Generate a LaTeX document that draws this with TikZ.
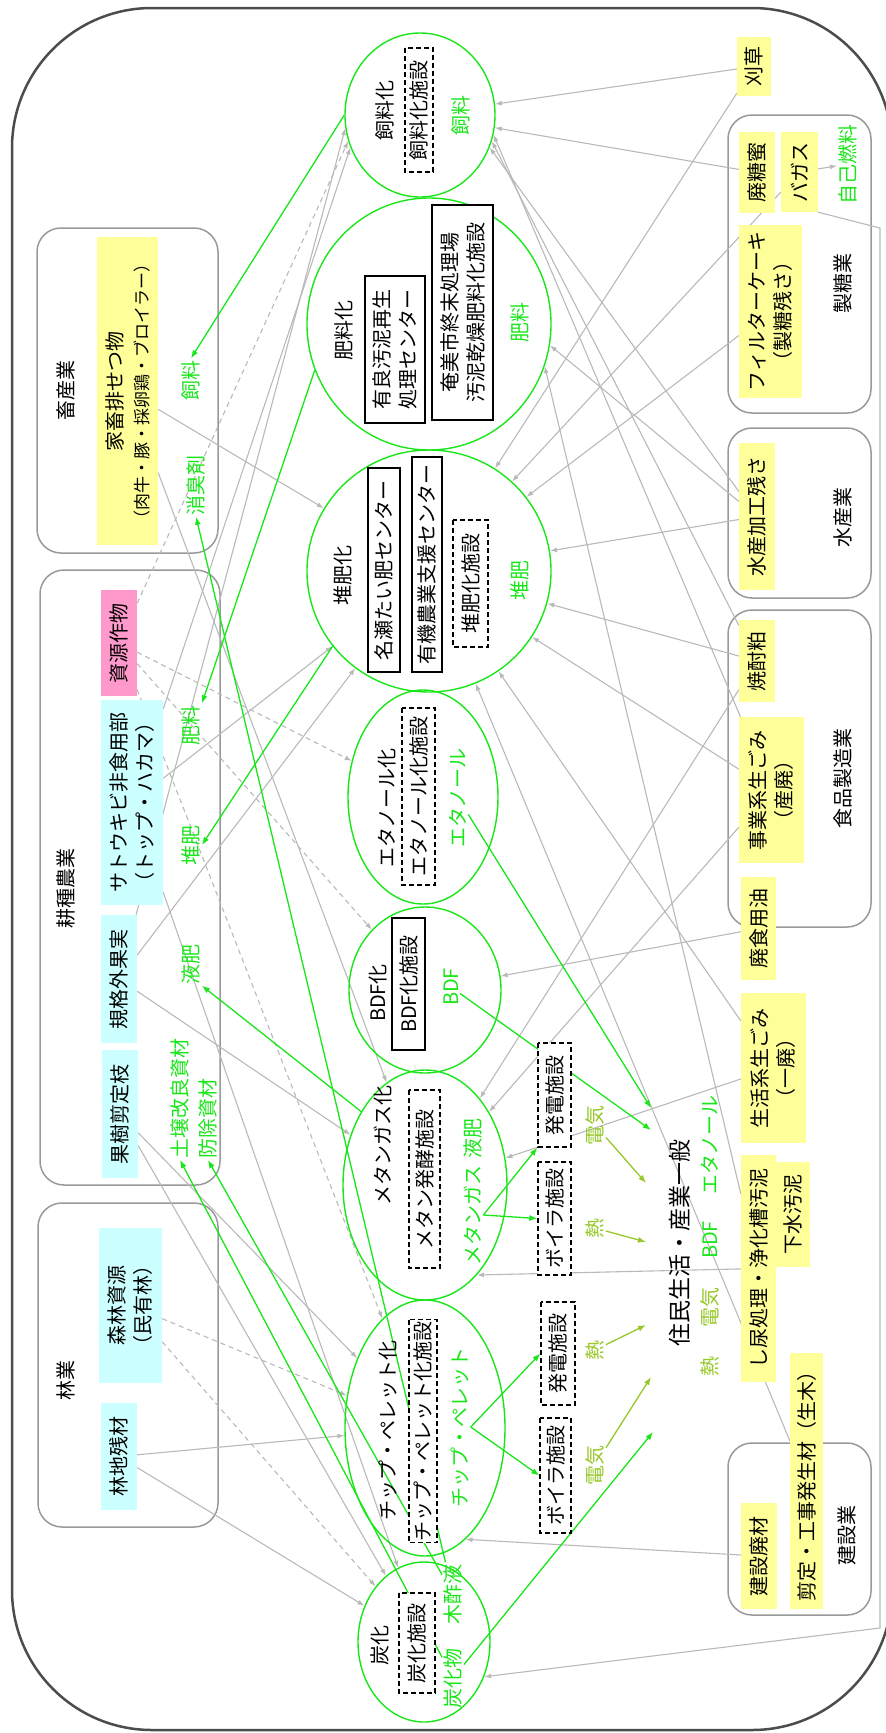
\documentclass[tikz,border=0pt]{standalone}
\usepackage{fontspec}
\setmainfont{Noto Sans CJK JP}
\usetikzlibrary{shapes.geometric,arrows.meta,calc}
\pgfdeclarelayer{background}
\pgfsetlayers{background,main}
\definecolor{resgreen}{RGB}{25,230,25}
\definecolor{energyolive}{RGB}{150,200,40}
\definecolor{srcyellow}{RGB}{255,255,153}
\definecolor{srccyan}{RGB}{204,255,255}
\definecolor{srcpink}{RGB}{255,153,204}
\definecolor{flowgray}{RGB}{185,185,185}
\newcommand{\lbl}{\fontsize{20}{26}\selectfont}
\tikzset{
  conv/.style={ellipse,draw=resgreen,line width=1.4pt,inner sep=0pt},
  vtext/.style={rotate=90,inner sep=1.5pt,align=center},
  src/.style={vtext,fill=srcyellow},
  cyansrc/.style={vtext,fill=srccyan},
  pinksrc/.style={vtext,fill=srcpink},
  facil/.style={vtext,draw,fill=white,line width=1.6pt},
  plant/.style={vtext,draw,fill=white,line width=1.3pt,dash pattern=on 5pt off 3pt},
  prod/.style={vtext,text=resgreen},
  heatlbl/.style={vtext,text=energyolive},
  sector/.style={draw=black!40,line width=1.5pt,rounded corners=24pt},
  flow/.style={draw=flowgray,line width=1.1pt,-{Latex[length=7pt,width=5pt]}},
  plan/.style={flow,dash pattern=on 5pt off 4pt},
  useline/.style={draw=resgreen,line width=1.3pt,-{Latex[length=8pt,width=6pt]}},
  energy/.style={draw=energyolive,line width=1.3pt,-{Latex[length=8pt,width=6pt]}}
}
\begin{document}
\begin{tikzpicture}[x=1pt,y=-1pt,font=\lbl]
\useasboundingbox (0,0) rectangle (886,1733);

% conversion processes
\node[conv,minimum width=150pt,minimum height=164pt] (shiryo) at (420,115) {};
\node[conv,minimum width=244pt,minimum height=252pt] (hiryo) at (429,324) {};
\node[conv,minimum width=244pt,minimum height=242pt] (taihi) at (429,571) {};
\node[conv,minimum width=150pt,minimum height=214pt] (ethanol) at (423,797) {};
\node[conv,minimum width=152pt,minimum height=166pt] (bdf) at (425,990) {};
\node[conv,minimum width=164pt,minimum height=230pt] (methane) at (425,1185) {};
\node[conv,minimum width=160pt,minimum height=256pt] (chip) at (425,1428) {};
\node[conv,minimum width=132pt,minimum height=160pt] (tanka) at (424,1642) {};

\node[vtext] (tshiryo) at (385,110) {飼料化};
\node[vtext] (thiryo) at (344,330) {肥料化};
\node[vtext] (ttaihi) at (343,575) {堆肥化};
\node[vtext] (tethanol) at (387,808) {エタノール化};
\node[vtext] (tbdf) at (378,993) {BDF化};
\node[vtext] (tmethane) at (383,1145) {メタンガス化};
\node[vtext] (tchip) at (388,1430) {チップ・ペレット化};
\node[vtext] (ttanka) at (380,1645) {炭化};

\node[plant,minimum width=124pt,minimum height=28pt] (fshiryo) at (419,110) {飼料化施設};
\node[facil,minimum width=147pt,minimum height=60pt] (fhiryoa) at (395,349.5) {有良汚泥再生\\処理センター};
\node[facil,minimum width=215pt,minimum height=61pt] (fhiryob) at (462.5,312.5) {奄美市終末処理場\\汚泥乾燥肥料化施設};
\node[facil,minimum width=204pt,minimum height=32pt] (ftaihia) at (384,570) {名瀬たい肥センター};
\node[facil,minimum width=215pt,minimum height=30pt] (ftaihib) at (427,564.5) {有機農業支援センター};
\node[plant,minimum width=127pt,minimum height=35pt] (ftaihic) at (470.5,583.5) {堆肥化施設};
\node[plant,minimum width=177pt,minimum height=33pt] (fethanol) at (418.5,796.5) {エタノール化施設};
\node[facil,minimum width=132pt,minimum height=33pt] (fbdf) at (408.5,984) {BDF化施設};
\node[plant,minimum width=178pt,minimum height=31pt] (fmethane) at (424.5,1179) {メタン発酵施設};
\node[plant,minimum width=218pt,minimum height=28pt] (fchip) at (423,1431) {チップ・ペレット化施設};
\node[plant,minimum width=100pt,minimum height=36pt] (ftanka) at (417,1643) {炭化施設};

\node[prod] (pshiryo) at (461,115) {飼料};
\node[prod] (phiryo) at (520,322) {肥料};
\node[prod] (ptaihi) at (520,580) {堆肥};
\node[prod] (pethanol) at (458,798) {エタノール};
\node[prod] (pbdf) at (451,987) {BDF};
\node[prod] (ekihi) at (473,1138) {液肥};
\node[prod] (methgas) at (473,1215) {メタンガス};
\node[prod] (pchip) at (460,1427) {チップ・ペレット};
\node[prod] (mokusaku) at (453,1594) {木酢液};
\node[prod] (tankabutsu) at (453,1678) {炭化物};

% energy facilities and final use
\node[plant,minimum width=104pt,minimum height=33pt] (gen1) at (554.5,1095) {発電施設};
\node[plant,minimum width=113pt,minimum height=33pt] (boiler1) at (554.5,1218.5) {ボイラ施設};
\node[plant,minimum width=103pt,minimum height=34pt] (gen2) at (558,1353.5) {発電施設};
\node[plant,minimum width=115pt,minimum height=31pt] (boiler2) at (555.5,1475.5) {ボイラ施設};
\node[heatlbl] (elec1) at (595,1125) {電気};
\node[heatlbl] (heat1) at (595,1228) {熱};
\node[heatlbl] (heat2) at (595,1350) {熱};
\node[heatlbl] (elec2) at (595,1465) {電気};
\node[vtext,font=\fontsize{23}{28}\selectfont] (life) at (680,1243) {住民生活・産業一般};
\node[heatlbl] (rheat) at (710,1366) {熱};
\node[heatlbl] (relec) at (710,1307) {電気};
\node[prod] (rbdf) at (710,1240) {BDF};
\node[prod] (rethanol) at (710,1145) {エタノール};
\coordinate (lifein1) at (651,1108);
\coordinate (lifein2) at (651,1130);
\coordinate (lifein3) at (646,1183);
\coordinate (lifein4) at (646,1242);
\coordinate (lifein5) at (646,1325);
\coordinate (lifein6) at (651,1377);
\coordinate (lifein7) at (653,1432);

% right-hand sources
\node[src,minimum width=59pt,minimum height=34pt] (kusa) at (754,66.5) {刈草};
\node[src,minimum width=81pt,minimum height=36pt] (tomitsu) at (757,172.5) {廃糖蜜};
\node[src,minimum width=80pt,minimum height=37pt] (bagasse) at (799.5,172) {バガス};
\node[prod] (jiko) at (848,164) {自己燃料};
\node[src,minimum width=173pt,minimum height=63pt] (filter) at (770.5,311.5) {フィルターケーキ\\（製糖残さ）};
\node[vtext] (lseito) at (843,283) {製糖業};
\node[src,minimum width=147pt,minimum height=36pt] (suisan) at (757,516.5) {水産加工残さ};
\node[vtext] (lsuisan) at (843,517) {水産業};
\node[src,minimum width=82pt,minimum height=36pt] (shochu) at (757,661) {焼酎粕};
\node[src,minimum width=146pt,minimum height=65pt] (jigyo) at (771.5,790) {事業系生ごみ\\（産廃）};
\node[vtext] (lshokuhin) at (843,778) {食品製造業};
\node[src,minimum width=103pt,minimum height=35pt] (haiyu) at (758.5,928.5) {廃食用油};
\node[src,minimum width=150pt,minimum height=65pt] (seikatsu) at (773.5,1068) {生活系生ごみ\\（一廃）};
\node[src,minimum width=105pt,minimum height=34pt] (gesui) at (793,1214.5) {下水汚泥};
\node[src,minimum width=227pt,minimum height=35pt] (shinyo) at (758.5,1268.5) {し尿処理・浄化槽汚泥};
\node[src,minimum width=256pt,minimum height=33pt] (sentei) at (806.5,1481) {剪定・工事発生材（生木）};
\node[src,minimum width=106pt,minimum height=36pt] (kenzai) at (759,1556) {建設廃材};
\node[vtext] (lkensetsu) at (847,1535) {建設業};

% left-hand sources
\node[vtext] (lchiku) at (66,390) {畜産業};
\node[src,minimum width=308pt,minimum height=61pt] (kachiku) at (127.5,391) {家畜排せつ物\\{\fontsize{17}{20}\selectfont（肉牛・豚・採卵鶏・ブロイラー）}};
\node[prod] (feedlbl) at (191,380) {飼料};
\node[prod] (deodor) at (196,485) {消臭剤};
\node[vtext] (lkoshu) at (66,888) {耕種農業};
\node[pinksrc,minimum width=106pt,minimum height=36pt] (shigen) at (119,643) {資源作物};
\node[cyansrc,minimum width=205pt,minimum height=62pt] (sato) at (132,802.5) {サトウキビ非食用部\\（トップ・ハカマ）};
\node[cyansrc,minimum width=128pt,minimum height=36pt] (kikaku) at (119,979) {規格外果実};
\node[cyansrc,minimum width=128pt,minimum height=36pt] (kaju) at (120,1114) {果樹剪定枝};
\node[prod] (fertlbl) at (191,725) {肥料};
\node[prod] (compost) at (191,845) {堆肥};
\node[prod] (liquid) at (191,964) {液肥};
\node[prod,anchor=west] (soillbl) at (180,1160) {土壌改良資材};
\node[prod,anchor=west] (pestlbl) at (208,1160) {防除資材};
\node[vtext] (lringyo) at (66,1380) {林業};
\node[cyansrc,minimum width=155pt,minimum height=63pt] (shinrin) at (130.5,1305.5) {森林資源\\（民有林）};
\node[cyansrc,minimum width=107pt,minimum height=36pt] (rinchi) at (119,1456.5) {林地残材};

\coordinate (bendA) at (880,228);
\coordinate (bendB) at (880,1628);

\begin{pgfonlayer}{background}
\draw[black!70,line width=2.5pt,rounded corners=140pt] (12,8) rectangle (892,1730);
\draw[sector] (37,228) rectangle (218,553);
\draw[sector] (40,570) rectangle (220,1185);
\draw[sector] (38,1203) rectangle (218,1527);
\draw[sector] (728,115) rectangle (871,413);
\draw[sector] (728,428) rectangle (871,598);
\draw[sector] (728,610) rectangle (871,927);
\draw[sector] (728,1443) rectangle (871,1615);

\draw[flow] (kusa) -- (shiryo);
\draw[flow] (kusa) -- (taihi);
\draw[flow] (tomitsu) -- (shiryo);
\draw[flow] (bagasse) -- (jiko);
\draw[flow] (bagasse) -- (taihi);
\draw[flow] (bagasse.south west) -- (bendA) -- (bendB) -- (tanka.330);
\draw[flow] (filter) -- (taihi);
\draw[flow] (suisan) -- (shiryo.335);
\draw[flow] (suisan) -- (hiryo.350);
\draw[flow] (suisan) -- (taihi);
\draw[flow] (shochu) -- (shiryo.340);
\draw[flow] (shochu) -- (taihi);
\draw[flow] (shochu) -- (methane);
\draw[flow] (jigyo) -- (shiryo.345);
\draw[flow] (jigyo) -- (taihi);
\draw[flow] (jigyo) -- (methane);
\draw[flow] (haiyu) -- (bdf);
\draw[flow] (seikatsu) -- (taihi);
\draw[flow] (seikatsu) -- (methane);
\draw[flow] (shinyo) -- (hiryo.340);
\draw[flow] (shinyo) -- (methane.300);
\draw[flow] (sentei) -- (taihi);
\draw[flow] (kenzai) -- (chip.290);
\draw[flow] (kachiku) -- (taihi);
\draw[flow] (kachiku) -- (methane);
\draw[flow] (sato) -- (shiryo.205);
\draw[flow] (sato) -- (taihi);
\draw[flow] (sato) -- (tanka);
\draw[flow] (kikaku) -- (shiryo.190);
\draw[flow] (kikaku) -- (taihi);
\draw[flow] (kikaku) -- (methane);
\draw[flow] (kaju) -- (chip);
\draw[flow] (kaju) -- (tanka);
\draw[flow] (rinchi) -- (chip);
\draw[flow] (rinchi) -- (tanka);
\draw[plan] (shigen) -- (shiryo.200);
\draw[plan] (shigen) -- (ethanol);
\draw[plan] (shigen) -- (bdf);
\draw[plan] (shigen) -- (chip);
\draw[plan] (shinrin) -- (chip);
\draw[plan] (shinrin) -- (tanka);

\draw[useline] (shiryo.west) -- (feedlbl.east);
\draw[useline] (hiryo.202) -- (fertlbl.south east);
\draw[useline] (taihi.218) -- (compost.south);
\draw[useline] (methane.131) -- (liquid.south west);
\draw[useline] (mokusaku) -- (deodor.west);
\draw[useline] (mokusaku) -- (pestlbl.west);
\draw[useline] (tankabutsu) -- (soillbl.west);
\draw[useline] (tankabutsu) -- (lifein7);
\draw[useline] (pethanol) -- (lifein1);
\draw[useline] (pbdf) -- (lifein2);
\draw[useline] (methgas.south) -- (boiler1.north);
\draw[useline] (methgas.south) -- (gen1.north west);
\draw[useline] (pchip.south) -- (gen2.north);
\draw[useline] (pchip.south) -- (boiler2.north);
\draw[energy] (elec1) -- (lifein3);
\draw[energy] (heat1) -- (lifein4);
\draw[energy] (heat2) -- (lifein5);
\draw[energy] (elec2) -- (lifein6);
\end{pgfonlayer}
\end{tikzpicture}
\end{document}
